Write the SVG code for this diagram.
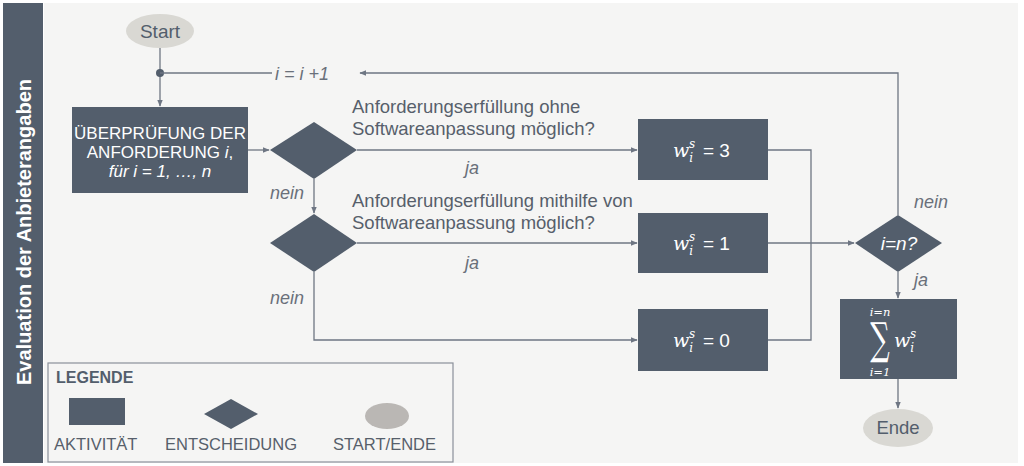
<svg xmlns="http://www.w3.org/2000/svg" width="1024" height="466" viewBox="0 0 1024 466">
<defs>
<style>
.node{fill:#535e6c}
.ln{fill:none;stroke:#6e7683;stroke-width:1.3}
.lbl{font-family:"Liberation Sans",Arial,sans-serif;font-size:18.5px;fill:#575f6b}
.it{font-family:"Liberation Sans",Arial,sans-serif;font-size:18px;font-style:italic;fill:#6a707a}
.wt{font-family:"Liberation Sans",Arial,sans-serif;fill:#ffffff}
.mth{font-family:"DejaVu Serif","Liberation Serif",serif;font-style:italic;fill:#ffffff}
.leg{font-family:"Liberation Sans",Arial,sans-serif;font-size:16.5px;fill:#575f6b}
</style>
<marker id="ah" viewBox="0 0 10 10" refX="9" refY="5" markerWidth="7" markerHeight="7" orient="auto" markerUnits="userSpaceOnUse">
<path d="M0,1 L10,5 L0,9 z" fill="#6e7683"/>
</marker>
</defs>
<rect x="0" y="0" width="1024" height="466" fill="#ffffff"/>
<rect x="44" y="3" width="974" height="460" fill="#f5f5f4"/>
<g id="sidebar">
<rect x="3" y="3" width="40" height="460" fill="#535e6c"/>
<text transform="translate(31,232) rotate(-90)" text-anchor="middle" font-family="Liberation Sans,Arial,sans-serif" font-weight="bold" font-size="20" fill="#ffffff">Evaluation der Anbieterangaben</text>
</g>
<g id="connectors">
<line class="ln" x1="160" y1="48" x2="160" y2="106" marker-end="url(#ah)"/>
<circle cx="160" cy="73" r="4" fill="#535e6c"/>
<line class="ln" x1="160" y1="73" x2="272" y2="73"/>
<polyline class="ln" points="898,215 898,73 360,73" marker-end="url(#ah)"/>
<line class="ln" x1="248" y1="150" x2="269" y2="150" marker-end="url(#ah)"/>
<line class="ln" x1="357" y1="150" x2="637" y2="150" marker-end="url(#ah)"/>
<line class="ln" x1="314" y1="179" x2="314" y2="213" marker-end="url(#ah)"/>
<line class="ln" x1="357" y1="243" x2="637" y2="243" marker-end="url(#ah)"/>
<polyline class="ln" points="314,272 314,340 637,340" marker-end="url(#ah)"/>
<polyline class="ln" points="768,150 811,150 811,340 768,340"/>
<line class="ln" x1="768" y1="243" x2="854" y2="243" marker-end="url(#ah)"/>
<line class="ln" x1="898" y1="272" x2="898" y2="298" marker-end="url(#ah)"/>
<line class="ln" x1="898" y1="379" x2="898" y2="408" marker-end="url(#ah)"/>
</g>
<g id="labels">
<text class="it" x="275" y="80" font-size="20">i = i +1</text>
<text class="lbl" x="352" y="113">Anforderungserfüllung ohne</text>
<text class="lbl" x="352" y="135">Softwareanpassung möglich?</text>
<text class="it" x="465" y="174">ja</text>
<text class="it" x="270" y="199">nein</text>
<text class="lbl" x="352" y="207">Anforderungserfüllung mithilfe von</text>
<text class="lbl" x="352" y="229">Softwareanpassung möglich?</text>
<text class="it" x="465" y="269">ja</text>
<text class="it" x="270" y="304">nein</text>
<text class="it" x="914" y="208">nein</text>
<text class="it" x="914" y="286">ja</text>
</g>
<g id="start">
<ellipse cx="160" cy="31" rx="34" ry="17" fill="#d9d8d3"/>
<text x="160" y="38" text-anchor="middle" font-family="Liberation Sans,Arial,sans-serif" font-size="19" fill="#535e6c">Start</text>
</g>
<g id="check">
<rect class="node" x="72" y="107" width="176" height="86"/>
<text class="wt" x="160" y="139" text-anchor="middle" font-size="17">ÜBERPRÜFUNG DER</text>
<text class="wt" x="160" y="158" text-anchor="middle" font-size="17">ANFORDERUNG <tspan font-style="italic">i</tspan>,</text>
<text class="wt" x="160" y="177" text-anchor="middle" font-size="17" font-style="italic">für i = 1, …, n</text>
</g>
<g id="decision1"><polygon class="node" points="270,150 314,122 357,150 314,179"/></g>
<g id="decision2"><polygon class="node" points="270,243 314,214 357,243 314,272"/></g>
<g id="w3">
<rect class="node" x="638" y="119" width="130" height="61"/>
<text class="mth" x="673" y="157" font-size="19">w<tspan font-size="12" dy="5">i</tspan><tspan font-size="12" dx="-4" dy="-14">s</tspan></text>
<text class="wt" x="703" y="157" font-size="19">= 3</text>
</g>
<g id="w1">
<rect class="node" x="638" y="213" width="130" height="60"/>
<text class="mth" x="673" y="250" font-size="19">w<tspan font-size="12" dy="5">i</tspan><tspan font-size="12" dx="-4" dy="-14">s</tspan></text>
<text class="wt" x="703" y="250" font-size="19">= 1</text>
</g>
<g id="w0">
<rect class="node" x="638" y="309" width="130" height="62"/>
<text class="mth" x="673" y="347" font-size="19">w<tspan font-size="12" dy="5">i</tspan><tspan font-size="12" dx="-4" dy="-14">s</tspan></text>
<text class="wt" x="703" y="347" font-size="19">= 0</text>
</g>
<g id="decision3">
<polygon class="node" points="855,243 898,215 942,243 898,272"/>
<text class="wt" x="899" y="250" text-anchor="middle" font-size="19" font-style="italic">i=n?</text>
</g>
<g id="sum">
<rect class="node" x="840" y="299" width="117" height="80"/>
<text class="mth" x="880" y="316" text-anchor="middle" font-size="11.5">i=n</text>
<text transform="translate(880,354) scale(0.62,1)" text-anchor="middle" font-family="DejaVu Serif,Liberation Serif,serif" font-size="44" fill="#ffffff">∑</text>
<text class="mth" x="880" y="376" text-anchor="middle" font-size="11.5">i=1</text>
<text class="mth" x="894" y="347" font-size="19">w<tspan font-size="12" dy="5">i</tspan><tspan font-size="12" dx="-4" dy="-14">s</tspan></text>
</g>
<g id="ende">
<ellipse cx="898" cy="428" rx="35" ry="19" fill="#d9d8d3"/>
<text x="898" y="434" text-anchor="middle" font-family="Liberation Sans,Arial,sans-serif" font-size="18.5" fill="#535e6c">Ende</text>
</g>
<g id="legend">
<rect x="48" y="363" width="405" height="99" fill="none" stroke="#8a9099" stroke-width="1.2"/>
<text x="56" y="383" font-family="Liberation Sans,Arial,sans-serif" font-weight="bold" font-size="16" fill="#535e6c">LEGENDE</text>
<rect class="node" x="69" y="398" width="56" height="27"/>
<polygon class="node" points="204,414 231,399 258,414 231,429"/>
<ellipse cx="387" cy="416" rx="22" ry="13" fill="#bab7b4"/>
<text class="leg" x="54" y="450">AKTIVITÄT</text>
<text class="leg" x="165" y="450">ENTSCHEIDUNG</text>
<text class="leg" x="333" y="450">START/ENDE</text>
</g>
</svg>
